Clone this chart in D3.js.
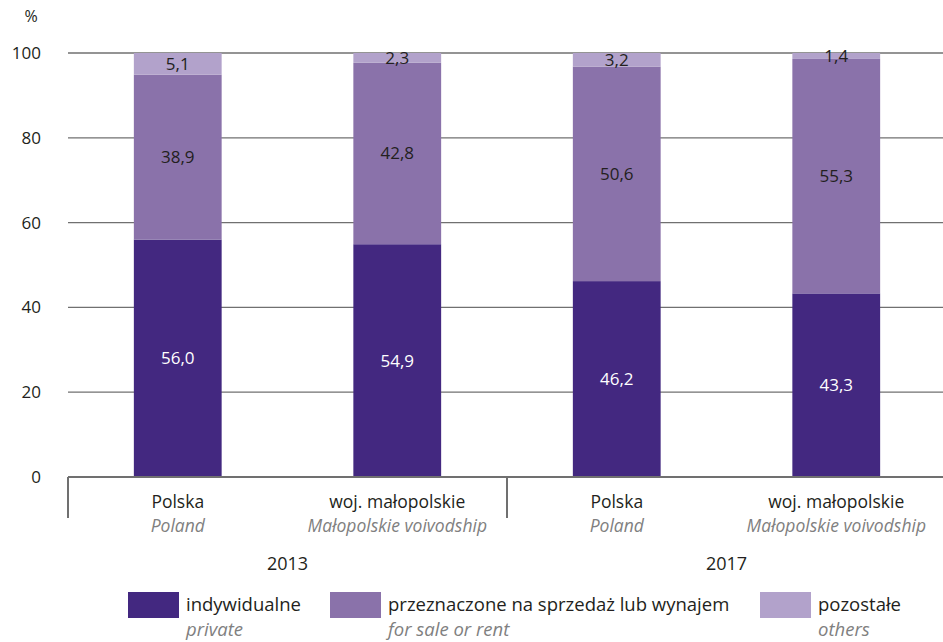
<!DOCTYPE html>
<html>
<head>
<meta charset="utf-8">
<script src="https://cdn.jsdelivr.net/npm/d3@7"></script>
<style>
  body { margin: 0; background: #fff; }
  text { font-family: "Open Sans", sans-serif; }
</style>
</head>
<body>
<div id="chart"></div>
<script>
// data
var groups = ["Polska", "woj. małopolskie", "Polska", "woj. małopolskie"]
var groupsEn = ["Poland", "Małopolskie voivodship", "Poland", "Małopolskie voivodship"]
var years = ["2013", "2017"]
var seriesPl = ["indywidualne", "przeznaczone na sprzedaż lub wynajem", "pozostałe"]
var seriesEn = ["private", "for sale or rent", "others"]
var privateVals = [56.0, 54.9, 46.2, 43.3]
var saleVals = [38.9, 42.8, 50.6, 55.3]
var otherVals = [5.1, 2.3, 3.2, 1.4]
var yTicks = [0, 20, 40, 60, 80, 100]
var colors = ["#432880", "#8a72aa", "#b2a2cb"]

var W = 943, H = 642
var mLeft = 68, mRight = 946, mTop = 53, mBottom = 477

var svg = d3.select("#chart").append("svg")
  .attr("width", W)
  .attr("height", H)

var x = d3.scaleBand()
  .domain(d3.range(groups.length))
  .range([mLeft, mRight])
  .paddingInner(0.6)
  .paddingOuter(0.3)

var y = d3.scaleLinear()
  .domain([0, 100])
  .range([mBottom, mTop])

var fmt = function (v) { return d3.format(".1f")(v).replace(".", ",") }

// gridlines
svg.append("g")
  .selectAll("line")
  .data(yTicks.filter(d => d > 0))
  .join("line")
  .attr("x1", mLeft).attr("x2", W)
  .attr("y1", d => y(d)).attr("y2", d => y(d))
  .attr("stroke", "#707070")
  .attr("stroke-width", 1.3)

// y tick labels
svg.append("g")
  .selectAll("text")
  .data(yTicks)
  .join("text")
  .attr("x", 41)
  .attr("y", d => y(d) + 6)
  .attr("text-anchor", "end")
  .attr("font-size", 17)
  .attr("fill", "#231f20")
  .text(d => d)

svg.append("text")
  .attr("x", 31).attr("y", 22)
  .attr("text-anchor", "middle")
  .attr("font-size", 16)
  .attr("fill", "#231f20")
  .text("%")

// stacks
var rows = groups.map(function (g, i) {
  return { i: i, p: privateVals[i], s: saleVals[i], o: otherVals[i] }
})
var stack = d3.stack().keys(["p", "s", "o"])(rows)

var layer = svg.append("g")
  .selectAll("g")
  .data(stack)
  .join("g")
  .attr("fill", (d, k) => colors[k])

layer.selectAll("rect")
  .data(d => d)
  .join("rect")
  .attr("x", d => x(d.data.i))
  .attr("width", x.bandwidth())
  .attr("y", d => y(d[1]))
  .attr("height", d => y(d[0]) - y(d[1]))

// value labels
stack.forEach(function (s, k) {
  svg.append("g")
    .selectAll("text")
    .data(s)
    .join("text")
    .attr("x", d => x(d.data.i) + x.bandwidth() / 2)
    .attr("y", d => y((d[0] + d[1]) / 2) + 6)
    .attr("text-anchor", "middle")
    .attr("font-size", 17)
    .attr("fill", k == 0 ? "#fff" : "#231f20")
    .text(d => fmt(d[1] - d[0]))
})

// axis line + separators
svg.append("line")
  .attr("x1", mLeft).attr("x2", W)
  .attr("y1", mBottom).attr("y2", mBottom)
  .attr("stroke", "#707070")
  .attr("stroke-width", 2)

var sepX = [mLeft, (x(1) + x.bandwidth() + x(2)) / 2]
svg.append("g")
  .selectAll("line")
  .data(sepX)
  .join("line")
  .attr("x1", d => d).attr("x2", d => d)
  .attr("y1", mBottom).attr("y2", mBottom + 41)
  .attr("stroke", "#707070")
  .attr("stroke-width", 2)

// category labels
var cats = svg.append("g")
  .selectAll("g")
  .data(groups)
  .join("g")
  .attr("transform", (d, i) => `translate(${x(i) + x.bandwidth() / 2},0)`)

cats.append("text")
  .attr("y", 508)
  .attr("text-anchor", "middle")
  .attr("font-size", 17.5)
  .attr("fill", "#231f20")
  .text(d => d)

cats.append("text")
  .attr("y", 532)
  .attr("text-anchor", "middle")
  .attr("font-size", 17.5)
  .attr("font-style", "italic")
  .attr("fill", "#808080")
  .text((d, i) => groupsEn[i])

svg.append("g")
  .selectAll("text")
  .data(years)
  .join("text")
  .attr("x", (d, j) => (x(2 * j) + x(2 * j + 1) + x.bandwidth()) / 2)
  .attr("y", 570)
  .attr("text-anchor", "middle")
  .attr("font-size", 18)
  .attr("fill", "#231f20")
  .text(d => d)

// legend
var legX = [128, 330, 760]
var leg = svg.append("g")
  .selectAll("g")
  .data(seriesPl)
  .join("g")
  .attr("transform", (d, i) => `translate(${legX[i]},592)`)

leg.append("rect")
  .attr("width", 51).attr("height", 26)
  .attr("fill", (d, i) => colors[i])

leg.append("text")
  .attr("x", 58).attr("y", 19)
  .attr("font-size", 18.5)
  .attr("fill", "#231f20")
  .text(d => d)

leg.append("text")
  .attr("x", 58).attr("y", 44)
  .attr("font-size", 18.5)
  .attr("font-style", "italic")
  .attr("fill", "#808080")
  .text((d, i) => seriesEn[i])
</script>
</body>
</html>
